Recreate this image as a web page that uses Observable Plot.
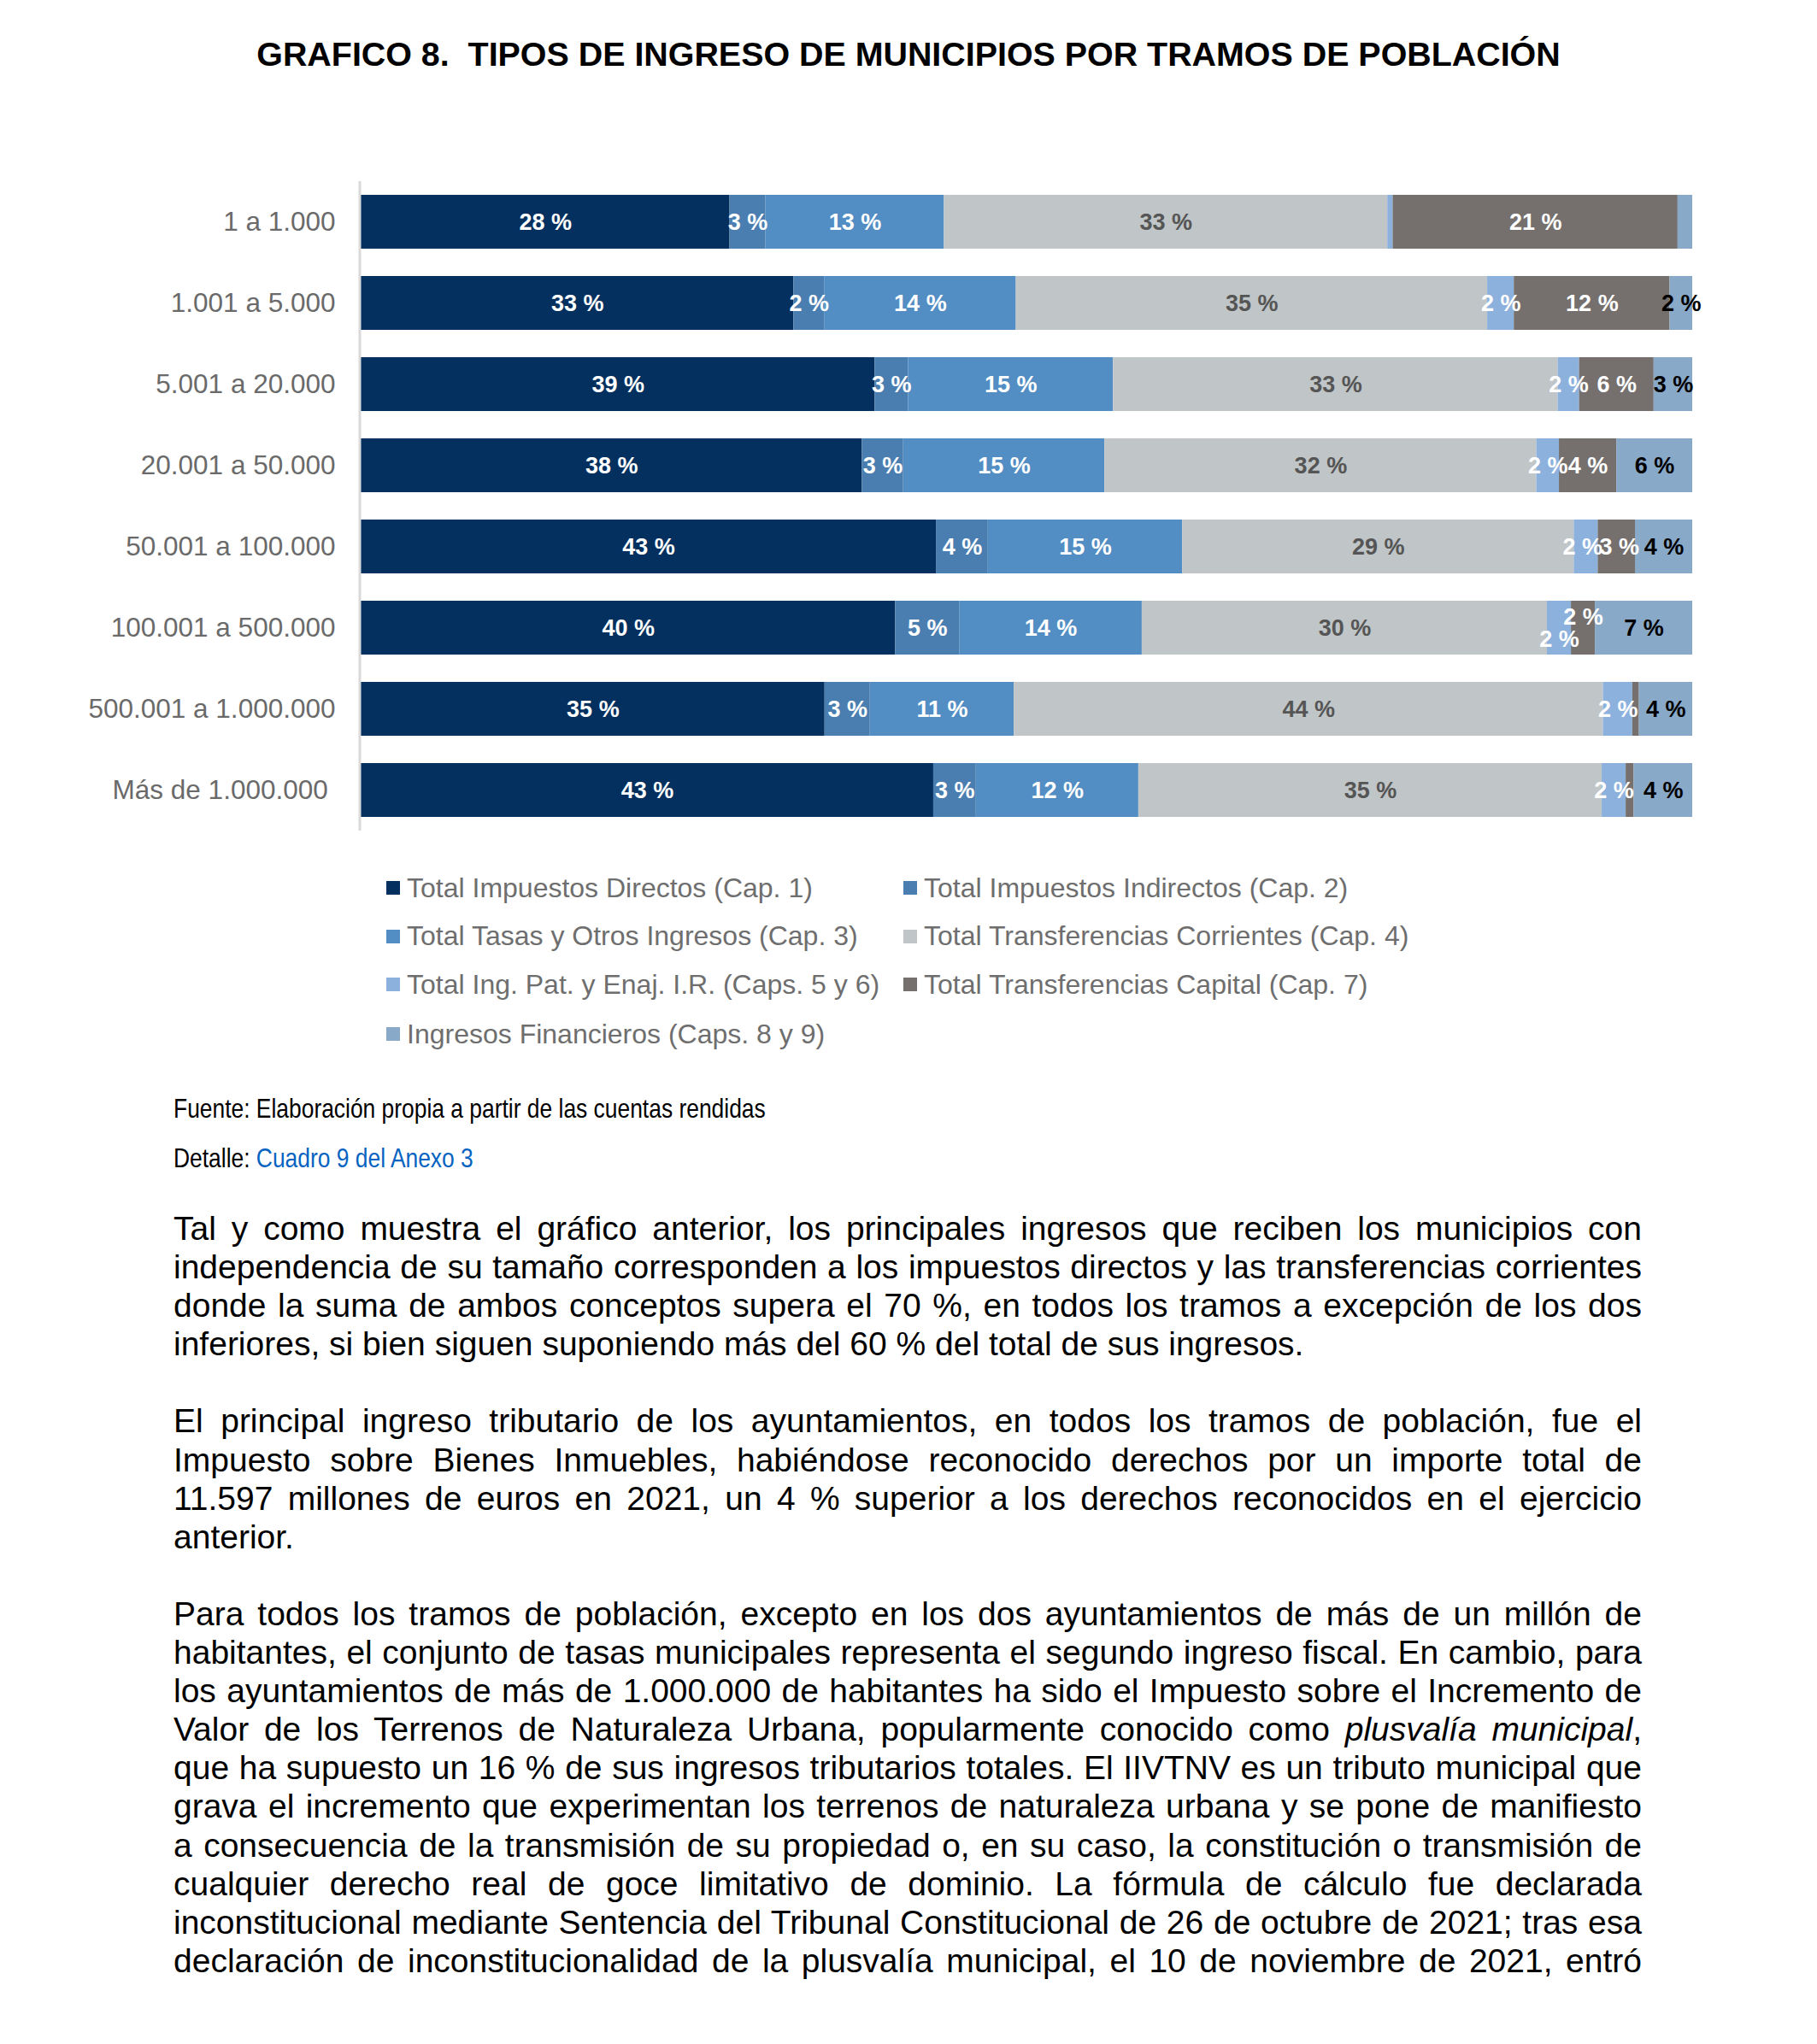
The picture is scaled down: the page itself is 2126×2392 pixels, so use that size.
<!DOCTYPE html>
<html><head><meta charset="utf-8">
<script src="https://cdn.jsdelivr.net/npm/d3@7"></script>
<script src="https://cdn.jsdelivr.net/npm/@observablehq/plot@0.6"></script>
<style>
body{margin:0;background:#fff;font-family:"Liberation Sans",Arial,sans-serif;}
#page{position:relative;width:2126px;height:2392px;overflow:hidden;background:#fff;}
#title{position:absolute;left:0;width:2126px;top:41px;text-align:center;font-weight:bold;font-size:39.4px;line-height:44px;color:#000;white-space:pre;}
#chart{position:absolute;left:0;top:180px;}
.leg{position:absolute;display:flex;align-items:center;height:40px;font-size:32px;color:#6e6e6e;white-space:nowrap;}
.leg .sw{width:16px;height:16px;margin-right:8px;flex:none;}
.src{position:absolute;left:203px;font-size:32px;color:#000;white-space:nowrap;transform:scaleX(0.825);transform-origin:left center;}
.src a{color:#0563c1;text-decoration:none;}
#body{position:absolute;left:203px;width:1718px;top:1415px;font-size:39px;color:#000;}
#body div{height:45.1px;line-height:45.1px;white-space:normal;}
#body .j{text-align:justify;text-align-last:justify;}
#body .l{text-align:left;}
</style></head>
<body><div id="page">
<div id="title">GRAFICO 8.  TIPOS DE INGRESO DE MUNICIPIOS POR TRAMOS DE POBLACIÓN</div>
<div id="chart"></div>
<div id="legend"></div>
<div class="src" style="top:1279px;">Fuente: Elaboración propia a partir de las cuentas rendidas</div>
<div class="src" style="top:1337px;">Detalle: <a>Cuadro 9 del Anexo 3</a></div>
<div id="body">
<div class="j">Tal y como muestra el gráfico anterior, los principales ingresos que reciben los municipios con</div>
<div class="j">independencia de su tamaño corresponden a los impuestos directos y las transferencias corrientes</div>
<div class="j">donde la suma de ambos conceptos supera el 70 %, en todos los tramos a excepción de los dos</div>
<div class="l">inferiores, si bien siguen suponiendo más del 60 % del total de sus ingresos.</div>
<div class="l"></div>
<div class="j">El principal ingreso tributario de los ayuntamientos, en todos los tramos de población, fue el</div>
<div class="j">Impuesto sobre Bienes Inmuebles, habiéndose reconocido derechos por un importe total de</div>
<div class="j">11.597 millones de euros en 2021, un 4 % superior a los derechos reconocidos en el ejercicio</div>
<div class="l">anterior.</div>
<div class="l"></div>
<div class="j">Para todos los tramos de población, excepto en los dos ayuntamientos de más de un millón de</div>
<div class="j">habitantes, el conjunto de tasas municipales representa el segundo ingreso fiscal. En cambio, para</div>
<div class="j">los ayuntamientos de más de 1.000.000 de habitantes ha sido el Impuesto sobre el Incremento de</div>
<div class="j">Valor de los Terrenos de Naturaleza Urbana, popularmente conocido como <i>plusvalía municipal</i>,</div>
<div class="j">que ha supuesto un 16 % de sus ingresos tributarios totales. El IIVTNV es un tributo municipal que</div>
<div class="j">grava el incremento que experimentan los terrenos de naturaleza urbana y se pone de manifiesto</div>
<div class="j">a consecuencia de la transmisión de su propiedad o, en su caso, la constitución o transmisión de</div>
<div class="j">cualquier derecho real de goce limitativo de dominio. La fórmula de cálculo fue declarada</div>
<div class="j">inconstitucional mediante Sentencia del Tribunal Constitucional de 26 de octubre de 2021; tras esa</div>
<div class="j">declaración de inconstitucionalidad de la plusvalía municipal, el 10 de noviembre de 2021, entró</div>
</div>
</div>
<script>
// Categories (tramos de población)
const tramos = ["1 a 1.000", "1.001 a 5.000", "5.001 a 20.000", "20.001 a 50.000",
  "50.001 a 100.000", "100.001 a 500.000", "500.001 a 1.000.000", "Más de 1.000.000"];

// Series names
const series = [
  "Total Impuestos Directos (Cap. 1)",
  "Total Impuestos Indirectos (Cap. 2)",
  "Total Tasas y Otros Ingresos (Cap. 3)",
  "Total Transferencias Corrientes (Cap. 4)",
  "Total Ing. Pat. y Enaj. I.R. (Caps. 5 y 6)",
  "Total Transferencias Capital (Cap. 7)",
  "Ingresos Financieros (Caps. 8 y 9)"
];
const colores = ["#03305e", "#4a7eb0", "#528dc3", "#c0c5c7", "#8db1dd", "#75706e", "#89a9c9"];

// Series values (% of total income), one per tramo
const directos      = [27.7, 32.5, 38.6, 37.6, 43.2, 40.1, 34.8, 43.0];
const indirectos    = [2.7, 2.3, 2.5, 3.1, 3.9, 4.8, 3.4, 3.2];
const tasas         = [13.4, 14.4, 15.4, 15.1, 14.6, 13.7, 10.8, 12.2];
const corrientes    = [33.3, 35.4, 33.4, 32.4, 29.4, 30.4, 44.2, 34.8];
const patrimoniales = [0.4, 2.0, 1.6, 1.7, 1.8, 1.8, 2.2, 1.8];
const capital       = [21.4, 11.7, 5.6, 4.3, 2.8, 1.8, 0.5, 0.6];
const financieros   = [1.1, 1.7, 2.9, 5.7, 4.3, 7.3, 4.0, 4.4];

const valores = [directos, indirectos, tasas, corrientes, patrimoniales, capital, financieros];
const data = tramos.flatMap((t, i) => series.map((s, j) => ({tramo: t, serie: s, value: valores[j][i]})));

const label = d => `${Math.round(d.value)} %`;
const show = d => d.value >= 1.5;
const isRow = (d, r, s) => d.tramo === tramos[r] && d.serie === series[s];
const special = d => isRow(d, 4, 4) || isRow(d, 4, 5) || isRow(d, 5, 4) || isRow(d, 5, 5);
const whiteSet = new Set([series[0], series[1], series[2], series[4], series[5]]);

const textOpts = (fn, fill, extra = {}) => Plot.stackX({
  x: "value", y: "tramo", z: "serie", offset: "normalize",
  text: d => fn(d) ? label(d) : "",
  fill, fontSize: 27, fontWeight: "bold", ...extra
});

const chart = Plot.plot({
  width: 2126, height: 820,
  marginTop: 32, marginBottom: 28, marginLeft: 422, marginRight: 146,
  style: {fontFamily: "'Liberation Sans', Arial, sans-serif", fontSize: "31.5px", color: "#6a6a6a", background: "transparent"},
  x: {domain: [0, 1], axis: null},
  y: {domain: tramos, paddingInner: 0.332, paddingOuter: 0.166, label: null, tickSize: 0, tickPadding: 30,
      tickFormat: d => d === tramos[7] ? d + "\u00a0" : d},
  color: {domain: series, range: colores},
  marks: [
    Plot.barX(data, Plot.stackX({x: "value", y: "tramo", fill: "serie", offset: "normalize"})),
    Plot.ruleX([0], {stroke: "#d9d9d9", strokeWidth: 3, dx: -1.5}),
    Plot.text(data, textOpts(d => show(d) && whiteSet.has(d.serie) && !special(d), "white")),
    Plot.text(data, textOpts(d => show(d) && d.serie === series[3], "#555555")),
    Plot.text(data, textOpts(d => show(d) && d.serie === series[6], "#000000")),
    Plot.text(data, textOpts(d => isRow(d, 4, 4), "white", {dx: -4})),
    Plot.text(data, textOpts(d => isRow(d, 4, 5), "white", {dx: 3})),
    Plot.text(data, textOpts(d => isRow(d, 5, 4), "white", {dy: 13})),
    Plot.text(data, textOpts(d => isRow(d, 5, 5), "white", {dy: -13}))
  ]
});
document.getElementById("chart").appendChild(chart);

// Legend (HTML), two columns
const legend = document.getElementById("legend");
const legX = [452, 1057];
const legY = [1039, 1095.5, 1152, 1210];
series.forEach((s, i) => {
  const el = document.createElement("div");
  el.className = "leg";
  el.style.left = legX[i % 2] + "px";
  el.style.top = (legY[Math.floor(i / 2)] - 20) + "px";
  const sw = document.createElement("span");
  sw.className = "sw";
  sw.style.background = colores[i];
  el.appendChild(sw);
  el.appendChild(document.createTextNode(s));
  legend.appendChild(el);
});
</script>
</body></html>
